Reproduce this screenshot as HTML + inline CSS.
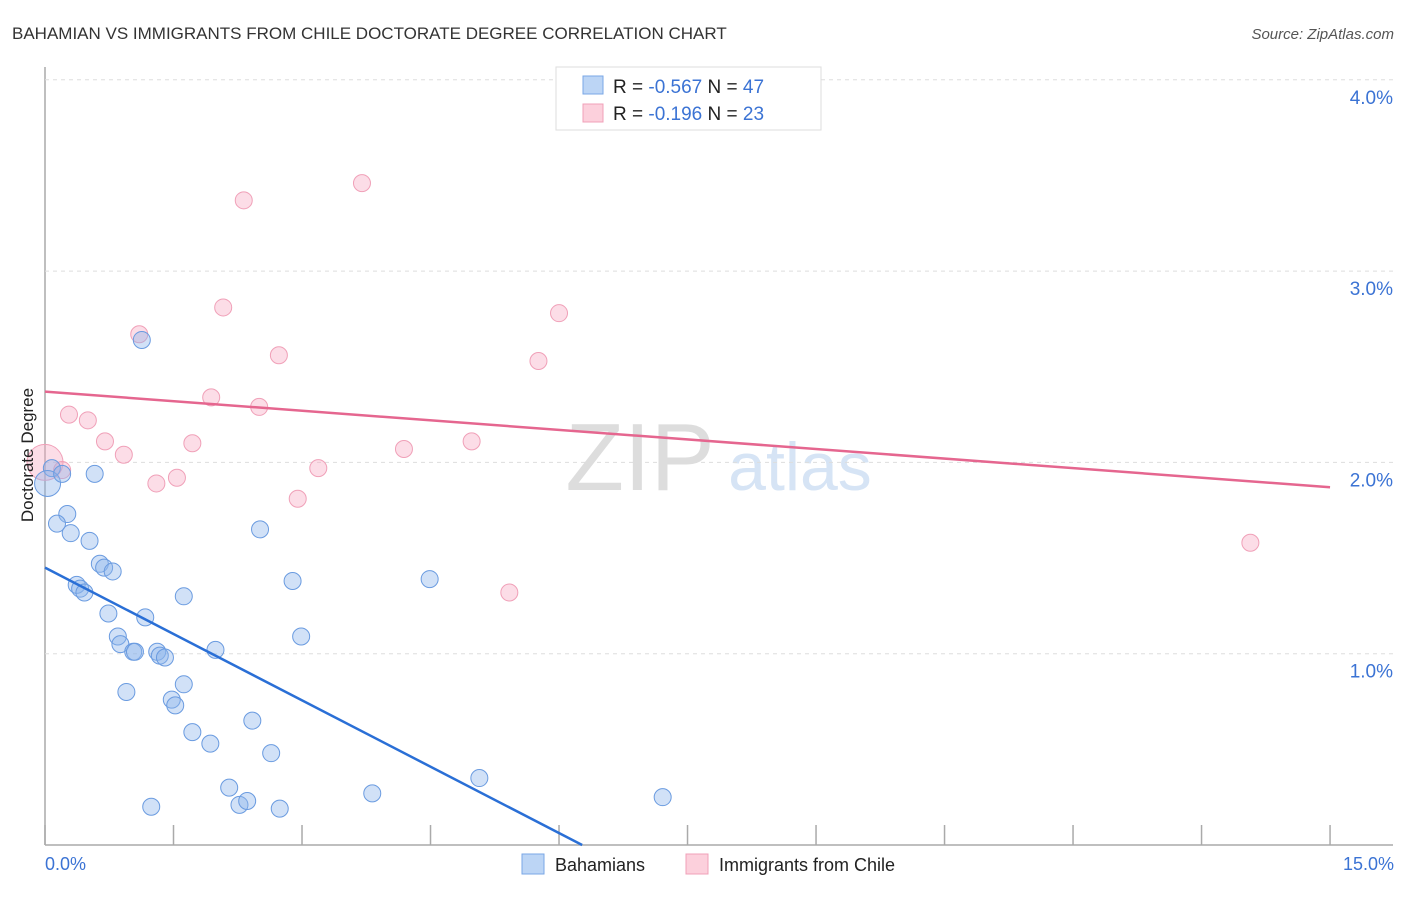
<!DOCTYPE html>
<html><head><meta charset="utf-8"><style>
body{margin:0;background:#fff;font-family:"Liberation Sans",sans-serif}
svg text{font-family:"Liberation Sans",sans-serif}
</style></head><body>
<svg id="c" width="1406" height="892">
<text x="12" y="39" font-size="17" fill="#333">BAHAMIAN VS IMMIGRANTS FROM CHILE DOCTORATE DEGREE CORRELATION CHART</text>
<text x="1394" y="39" font-size="15" fill="#555" text-anchor="end" font-style="italic">Source: ZipAtlas.com</text>
<text x="640" y="490" font-size="96" fill="#ddd" font-family="Liberation Serif" text-anchor="middle">ZIP</text>
<text x="800" y="490" font-size="68" fill="#d6e4f5" text-anchor="middle">atlas</text>
<g id="grid"></g><g id="marks"></g>
<text transform="translate(33,455) rotate(-90)" font-size="17" fill="#222" text-anchor="middle">Doctorate Degree</text>
<text x="45" y="870" font-size="18" fill="#3b73d4">0.0%</text>
<text x="1394" y="870" font-size="18" fill="#3b73d4" text-anchor="end">15.0%</text>
<g>
<rect x="556" y="67" width="265" height="63" fill="#fff" stroke="#ddd"/>
<rect x="583" y="76" width="20" height="18" fill="#bcd5f5" stroke="#7aa7e6"/>
<rect x="583" y="104" width="20" height="18" fill="#fcd0dc" stroke="#f0a0b8"/>
<text x="613" y="93" font-size="19" fill="#222">R = <tspan fill="#3b73d4">-0.567</tspan>   N = <tspan fill="#3b73d4">47</tspan></text>
<text x="613" y="120" font-size="19" fill="#222">R =  <tspan fill="#3b73d4">-0.196</tspan>   N = <tspan fill="#3b73d4">23</tspan></text>
</g>
<g>
<rect x="522" y="854" width="22" height="20" fill="#bcd5f5" stroke="#7aa7e6"/>
<text x="555" y="871" font-size="18" fill="#222">Bahamians</text>
<rect x="686" y="854" width="22" height="20" fill="#fcd0dc" stroke="#f0a0b8"/>
<text x="719" y="871" font-size="18" fill="#222">Immigrants from Chile</text>
</g>
</svg>
<script>
const yTicks=[1,2,3,4];
const yTickLabels=["1.0%","2.0%","3.0%","4.0%"];
const xTicks=[0,1.5,3,4.5,6,7.5,9,10.5,12,13.5,15];
const blueX=[0.08,0.03,0.2,0.58,0.26,0.14,0.3,0.52,0.64,0.69,0.79,0.37,0.41,0.46,0.74,1.17,1.62,0.85,0.88,1.03,1.05,1.31,1.34,1.4,1.99,0.95,1.62,1.48,1.52,1.72,1.93,2.42,2.64,2.15,2.27,2.36,2.74,1.24,1.13,2.51,2.89,2.99,3.82,4.49,5.07,7.21];
const blueY=[1.97,1.89,1.94,1.94,1.73,1.68,1.63,1.59,1.47,1.45,1.43,1.36,1.34,1.32,1.21,1.19,1.30,1.09,1.05,1.01,1.01,1.01,0.99,0.98,1.02,0.80,0.84,0.76,0.73,0.59,0.53,0.65,0.48,0.30,0.21,0.23,0.19,0.20,2.64,1.65,1.38,1.09,0.27,1.39,0.35,0.25];
const pinkX=[0.0,0.2,0.28,0.5,0.7,0.92,1.1,1.3,1.54,1.72,1.94,2.08,2.32,2.5,2.73,2.95,3.19,3.7,4.19,4.98,5.42,5.76,6.0,14.07];
const pinkY=[2.0,1.96,2.25,2.22,2.11,2.04,2.67,1.89,1.92,2.1,2.34,2.81,3.37,2.29,2.56,1.81,1.97,3.46,2.07,2.11,1.32,2.53,2.78,1.58];
const blueTrend=[0,1.45,6.27,0.0];
const pinkTrend=[0,2.37,15,1.87];
const sx=v=>45+v*85.67, sy=v=>845-v*191.3;
const NS="http://www.w3.org/2000/svg";
const grid=document.getElementById('grid'), marks=document.getElementById('marks');
function mk(tag,a,p){const e=document.createElementNS(NS,tag);for(const k in a)e.setAttribute(k,a[k]);p.appendChild(e);return e;}
let ax=mk('line',{x1:45,y1:67,x2:45,y2:845,stroke:'#aaa','stroke-width':1.5},grid);


let bx=mk('line',{x1:45,y1:845,x2:1393,y2:845,stroke:'#aaa','stroke-width':1.5},grid);


yTicks.forEach((t,i)=>{
 const g=mk('line',{x1:45,x2:1393,y1:sy(t),y2:sy(t),stroke:'#ddd','stroke-dasharray':'4,4'},grid);
 
 
 const tx=mk('text',{x:1393,y:sy(t)+24,'font-size':19,fill:'#3b73d4','text-anchor':'end'},grid);
 tx.textContent=yTickLabels[i];
 
 
});
xTicks.forEach(t=>{
 const l=mk('line',{x1:sx(t),x2:sx(t),y1:825,y2:845,stroke:'#aaa','stroke-width':1.5},grid);
 
 
});
pinkX.forEach((x,i)=>{
 const c=mk('circle',{cx:sx(x),cy:sy(pinkY[i]),r:i==0?18:8.5,fill:'rgba(248,170,195,0.4)',stroke:'#f0a0b8','stroke-width':1},marks);
 
 
});
blueX.forEach((x,i)=>{
 const c=mk('circle',{cx:sx(x),cy:sy(blueY[i]),r:i==1?13:8.5,fill:'rgba(140,180,235,0.4)',stroke:'#6a9be0','stroke-width':1},marks);
 
 
});
let bl=mk('line',{x1:sx(blueTrend[0]),y1:sy(blueTrend[1]),x2:sx(blueTrend[2]),y2:sy(blueTrend[3]),stroke:'#2a6fd6','stroke-width':2.5},marks);


let pl=mk('line',{x1:sx(pinkTrend[0]),y1:sy(pinkTrend[1]),x2:sx(pinkTrend[2]),y2:sy(pinkTrend[3]),stroke:'#e5668f','stroke-width':2.5},marks);


</script>
</body></html>
